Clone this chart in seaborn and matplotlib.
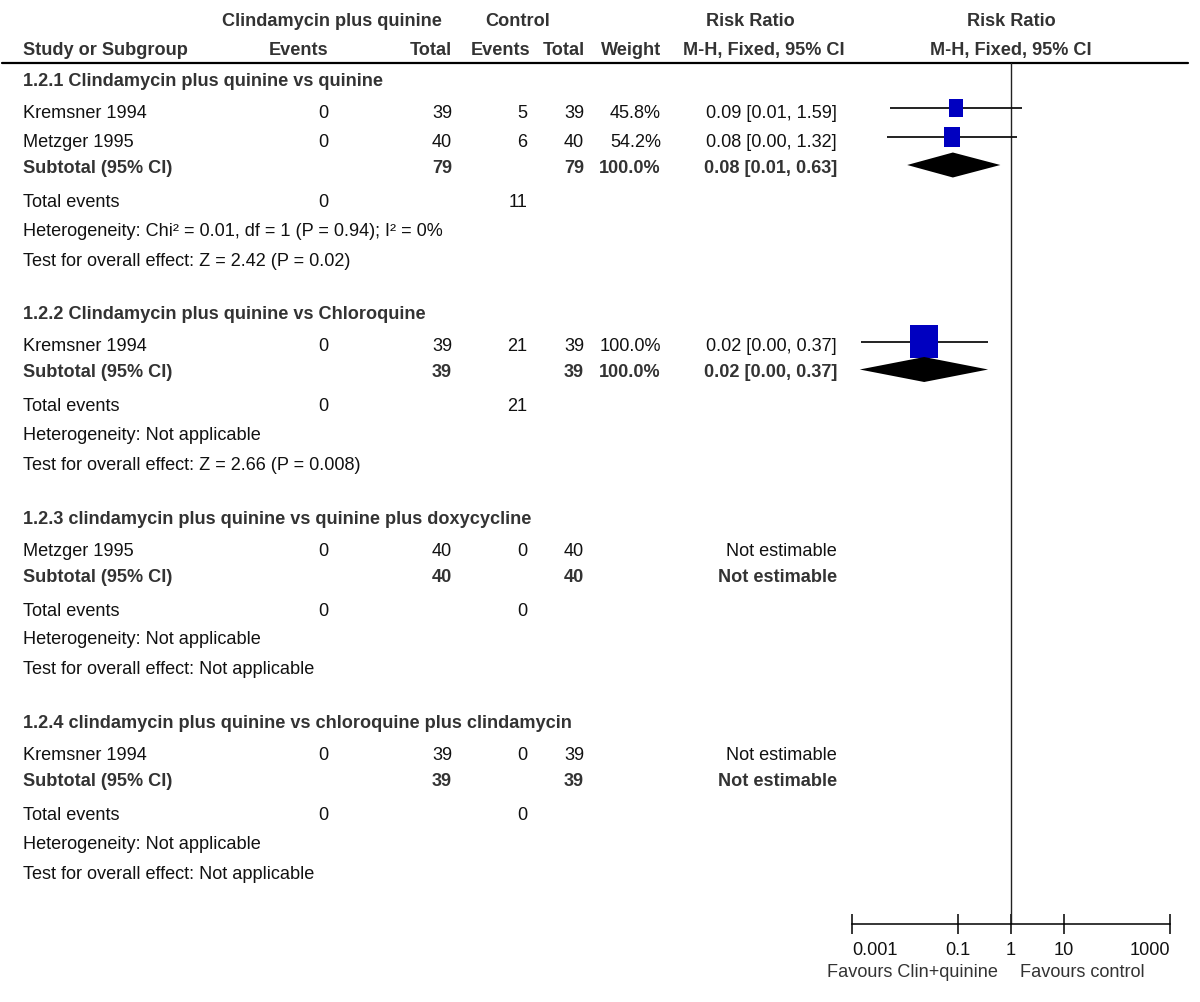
import numpy as np
import pandas as pd
import matplotlib
matplotlib.use("Agg")
import matplotlib.pyplot as plt
from matplotlib.path import Path
import seaborn as sns

# ---------------- data ----------------
subgroups = [
    "1.2.1 Clindamycin plus quinine vs quinine",
    "1.2.2 Clindamycin plus quinine vs Chloroquine",
    "1.2.3 clindamycin plus quinine vs quinine plus doxycycline",
    "1.2.4 clindamycin plus quinine vs chloroquine plus clindamycin",
]
studies = ["Kremsner 1994", "Metzger 1995", "Kremsner 1994", "Metzger 1995", "Kremsner 1994"]
study_group = [0, 0, 1, 2, 3]
clin_events = [0, 0, 0, 0, 0]
clin_total = [39, 40, 39, 40, 39]
ctrl_events = [5, 6, 21, 0, 0]
ctrl_total = [39, 40, 39, 40, 39]
weight_text = ["45.8%", "54.2%", "100.0%", "", ""]
weight_val = [45.8, 54.2, 100.0, np.nan, np.nan]
rr_text = ["0.09 [0.01, 1.59]", "0.08 [0.00, 1.32]", "0.02 [0.00, 0.37]",
           "Not estimable", "Not estimable"]
rr = [0.091, 0.077, 0.023, np.nan, np.nan]
ci_low = [0.0052, 0.0045, 0.0015, np.nan, np.nan]
ci_high = [1.59, 1.32, 0.37, np.nan, np.nan]

sub_clin_total = [79, 39, 40, 39]
sub_ctrl_total = [79, 39, 40, 39]
sub_weight_text = ["100.0%", "100.0%", "", ""]
sub_rr_text = ["0.08 [0.01, 0.63]", "0.02 [0.00, 0.37]", "Not estimable", "Not estimable"]
sub_rr = [0.08, 0.023, np.nan, np.nan]
sub_low = [0.011, 0.0014, np.nan, np.nan]
sub_high = [0.63, 0.37, np.nan, np.nan]
tot_clin_events = [0, 0, 0, 0]
tot_ctrl_events = [11, 21, 0, 0]
heterogeneity = [
    "Heterogeneity: Chi² = 0.01, df = 1 (P = 0.94); I² = 0%",
    "Heterogeneity: Not applicable",
    "Heterogeneity: Not applicable",
    "Heterogeneity: Not applicable",
]
overall_effect = [
    "Test for overall effect: Z = 2.42 (P = 0.02)",
    "Test for overall effect: Z = 2.66 (P = 0.008)",
    "Test for overall effect: Not applicable",
    "Test for overall effect: Not applicable",
]
axis_ticks = [0.001, 0.1, 1, 10, 1000]
axis_labels = ["0.001", "0.1", "1", "10", "1000"]
favours_left = "Favours Clin+quinine"
favours_right = "Favours control"

# ---------------- style ----------------
sns.set_theme(style="white")
plt.rcParams["font.family"] = ["Liberation Sans Narrow", "Liberation Sans", "DejaVu Sans"]
FS = 13.1
TXT = "#111111"
BOLD = "#333333"
BLUE = "#0000c0"

W, H = 1200, 1003
fig = plt.figure(figsize=(W / 100, H / 100), dpi=100)
fig.patch.set_facecolor("white")

# text overlay axes in pixel coordinates
at = fig.add_axes([0, 0, 1, 1])
at.set_xlim(0, W)
at.set_ylim(H, 0)
at.axis("off")

# column anchors (pixels)
X_STUDY = 23
X_CE = 328
X_CT = 452
X_KE = 527
X_KT = 584
X_W = 661
X_RR = 837


def t(x, y, s, ha="left", bold=False):
    at.text(x, y, s, ha=ha, va="center", fontsize=FS,
            fontweight="bold" if bold else "normal",
            color=BOLD if bold else TXT)


# headers
t(332, 21, "Clindamycin plus quinine", "center", True)
t(518, 21, "Control", "center", True)
t(750, 21, "Risk Ratio", "center", True)
t(1011, 21, "Risk Ratio", "center", True)
t(X_STUDY, 50, "Study or Subgroup", "left", True)
t(X_CE, 50, "Events", "right", True)
t(X_CT, 50, "Total", "right", True)
t(X_KE + 3, 50, "Events", "right", True)
t(X_KT + 1, 50, "Total", "right", True)
t(X_W, 50, "Weight", "right", True)
t(764, 50, "M-H, Fixed, 95% CI", "center", True)
t(1011, 50, "M-H, Fixed, 95% CI", "center", True)
at.plot([2, 1188], [64, 64], color="black", lw=1.6)

# row layout
study_rows = {}
sub_rows = []
y = 81
for g, name in enumerate(subgroups):
    t(X_STUDY, y, name, "left", True)
    idx = [i for i, sg in enumerate(study_group) if sg == g]
    yy = y + 32
    for i in idx:
        study_rows[i] = yy
        t(X_STUDY, yy, studies[i])
        t(X_CE, yy, str(clin_events[i]), "right")
        t(X_CT, yy, str(clin_total[i]), "right")
        t(X_KE, yy, str(ctrl_events[i]), "right")
        t(X_KT, yy, str(ctrl_total[i]), "right")
        if weight_text[i]:
            t(X_W, yy, weight_text[i], "right")
        t(X_RR, yy, rr_text[i], "right")
        yy += 29
    ys = yy - 29 + 26
    sub_rows.append(ys)
    t(X_STUDY, ys, "Subtotal (95% CI)", "left", True)
    t(X_CT, ys, str(sub_clin_total[g]), "right", True)
    t(X_KT, ys, str(sub_ctrl_total[g]), "right", True)
    if sub_weight_text[g]:
        t(X_W, ys, sub_weight_text[g], "right", True)
    t(X_RR, ys, sub_rr_text[g], "right", True)
    yt = ys + 34
    t(X_STUDY, yt, "Total events")
    t(X_CE, yt, str(tot_clin_events[g]), "right")
    t(X_KE, yt, str(tot_ctrl_events[g]), "right")
    t(X_STUDY, yt + 29, heterogeneity[g])
    t(X_STUDY, yt + 59, overall_effect[g])
    y = yt + 59 + 53.5

# forest axes
AX_L, AX_R, AX_TOP, AX_BOT = 852, 1170, 64, 925
af = fig.add_axes([AX_L / W, (H - AX_BOT) / H, (AX_R - AX_L) / W, (AX_BOT - AX_TOP) / H])
af.set_facecolor("none")
af.set_xscale("log")
af.set_xlim(0.001, 1000)
af.set_ylim(AX_BOT, AX_TOP)
for s in ["top", "left", "right"]:
    af.spines[s].set_visible(False)
af.spines["bottom"].set_color("black")
af.spines["bottom"].set_linewidth(1.1)
af.set_xticks(axis_ticks)
af.set_xticklabels(axis_labels)
af.xaxis.set_minor_locator(matplotlib.ticker.NullLocator())
af.tick_params(axis="x", which="major", direction="inout", length=14, width=1.1,
               color="black", labelsize=FS, labelcolor=TXT, pad=5, bottom=True)
labels = af.get_xticklabels()
labels[0].set_horizontalalignment("left")
labels[-1].set_horizontalalignment("right")
af.set_yticks([])
af.axvline(1, color="#222222", lw=1.0, zorder=1)

df = pd.DataFrame({
    "study": studies, "rr": rr, "low": ci_low, "high": ci_high,
    "weight": weight_val,
    "y": [study_rows[i] - 4 for i in range(len(studies))],
}).dropna()

af.hlines(df["y"], df["low"], df["high"], color="#111111", lw=1.3, zorder=2)
rect = Path([(-1, -1.2), (1, -1.2), (1, 1.2), (-1, 1.2), (-1, -1.2)],
            [Path.MOVETO, Path.LINETO, Path.LINETO, Path.LINETO, Path.CLOSEPOLY])
sns.scatterplot(data=df, x="rr", y="y", size="weight", sizes=(150, 565),
                size_norm=(45.8, 100), marker=rect, color=BLUE, edgecolor="none",
                linewidth=0, legend=False, ax=af, zorder=3)
af.set_xlabel("")
af.set_ylabel("")

for g in range(len(subgroups)):
    if np.isnan(sub_rr[g]):
        continue
    yc = sub_rows[g] - 2
    af.fill([sub_low[g], sub_rr[g], sub_high[g], sub_rr[g]],
            [yc, yc - 12.5, yc, yc + 12.5], color="black", lw=0, zorder=3)

at.text(998, 973, favours_left, ha="right", va="center", fontsize=FS, color="#333333")
at.text(1020, 973, favours_right, ha="left", va="center", fontsize=FS, color="#333333")

fig.savefig("out.png", dpi=100, facecolor="white")
